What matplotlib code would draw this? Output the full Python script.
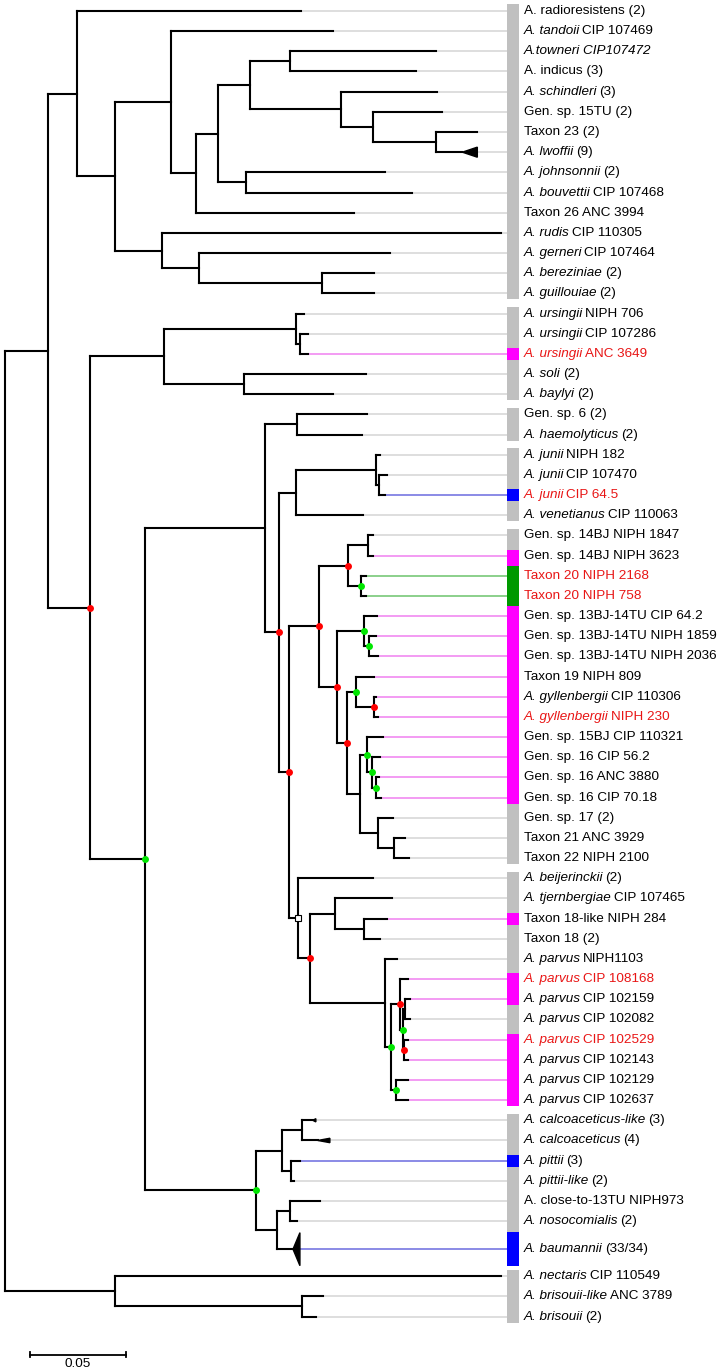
import matplotlib
matplotlib.use("Agg")
import matplotlib.pyplot as plt
from matplotlib.collections import LineCollection
from matplotlib.patches import Polygon, Rectangle

plt.rcParams['font.family'] = 'Liberation Sans'
FS = 9.7

# ---- tree data (Newick, branch lengths in substitutions/site) ----
# leaves are L<index into labels>; internal labels: r = red dot, g = green dot, o = open square
top_clade = ("(L0:0.1167,((L1:0.0844,((((L2:0.0760,L3:0.0656):0.0208,"
             "(L4:0.0500,(L5:0.0359,(L6:0.0214,L7:0.0214):0.0328):0.0167):0.0474):0.0167,"
             "(L8:0.0724,L9:0.0865):0.0146):0.0115,L10:0.0823):0.0130):0.0292,"
             "(L11:0.1766,(L12:0.0995,(L13:0.0271,L14:0.0271):0.0641):0.0193):0.0245):0.0198)")
ursingii_clade = "((L15:0.0042,(L16:0.0042,L17:0.0042):0.0021):0.0688,(L18:0.0635,L19:0.0464):0.0417)"
junii_clade = "((L22:0.0021,(L23:0.0042,L24:0.0031):0.0016):0.0417,L25:0.0349)"
gyll_clade = ("(((L26:0.0026,L27:0.0026):0.0104,(L28:0.0026,L29:0.0026)g:0.0068)r:0.0151,"
              "((L30:0.0068,(L31:0.0036,L32:0.0047)g:0.0026)g:0.0141,"
              "((L33:0.0094,(L34:0.0010,L35:0.0021)r:0.0094)g:0.0047,"
              "((L36:0.0083,(L37:0.0042,(L38:0.0016,L39:0.0026)g:0.0021)g:0.0026)g:0.0036,"
              "(L40:0.0078,(L41:0.0057,L42:0.0078):0.0083):0.0094):0.0068)r:0.0052)r:0.0094)r")
parvus_clade = ("(L43:0.0391,((L44:0.0297,(L45:0.0120,L46:0.0083):0.0151):0.0130,"
                "(L47:0.0063,((L48:0.0042,((L49:0.0026,L50:0.0029):0.0008,"
                "(L51:0.0021,L52:0.0021)r:0.0005)g:0.0016)r:0.0047,"
                "(L53:0.0063,L54:0.0063)g:0.0026)g:0.0031):0.0391)r:0.0063)o")
baumannii_clade = ("(((L55:0.0073,L56:0.0146):0.0104,(L57:0.0047,L58:0.0016):0.0047):0.0135,"
                   "((L59:0.0156,L60:0.0036):0.0068,L61:0.0120):0.0109)g")
brisouii_clade = "(L62:0.2010,(L63:0.0109,L64:0.0073):0.0974)"

# italic parts between underscores
labels = [
    "A. radioresistens (2)", "_A. tandoii_ CIP 107469", "_A.towneri CIP107472_",
    "A. indicus (3)", "_A. schindleri_ (3)", "Gen. sp. 15TU (2)", "Taxon 23 (2)",
    "_A. lwoffii_ (9)", "_A. johnsonnii_ (2)", "_A. bouvettii_ CIP 107468",
    "Taxon 26 ANC 3994", "_A. rudis_ CIP 110305", "_A. gerneri_ CIP 107464",
    "_A. bereziniae_ (2)", "_A. guillouiae_ (2)",
    "_A. ursingii_ NIPH 706", "_A. ursingii_ CIP 107286", "_A. ursingii_ ANC 3649",
    "_A. soli_ (2)", "_A. baylyi_ (2)",
    "Gen. sp. 6 (2)", "_A. haemolyticus_ (2)",
    "_A. junii_ NIPH 182", "_A. junii_ CIP 107470", "_A. junii_ CIP 64.5",
    "_A. venetianus_ CIP 110063",
    "Gen. sp. 14BJ NIPH 1847", "Gen. sp. 14BJ NIPH 3623", "Taxon 20 NIPH 2168",
    "Taxon 20 NIPH 758", "Gen. sp. 13BJ-14TU CIP 64.2", "Gen. sp. 13BJ-14TU NIPH 1859",
    "Gen. sp. 13BJ-14TU NIPH 2036", "Taxon 19 NIPH 809", "_A. gyllenbergii_ CIP 110306",
    "_A. gyllenbergii_ NIPH 230", "Gen. sp. 15BJ CIP 110321", "Gen. sp. 16 CIP 56.2",
    "Gen. sp. 16 ANC 3880", "Gen. sp. 16 CIP 70.18", "Gen. sp. 17 (2)",
    "Taxon 21 ANC 3929", "Taxon 22 NIPH 2100",
    "_A. beijerinckii_ (2)", "_A. tjernbergiae_ CIP 107465", "Taxon 18-like NIPH 284",
    "Taxon 18 (2)", "_A. parvus_ NIPH1103", "_A. parvus_ CIP 108168",
    "_A. parvus_ CIP 102159", "_A. parvus_ CIP 102082", "_A. parvus_ CIP 102529",
    "_A. parvus_ CIP 102143", "_A. parvus_ CIP 102129", "_A. parvus_ CIP 102637",
    "_A. calcoaceticus-like_ (3)", "_A. calcoaceticus_ (4)", "_A. pittii_ (3)",
    "_A. pittii-like_ (2)", "A. close-to-13TU NIPH973", "_A. nosocomialis_ (2)",
    "_A. baumannii_ (33/34)",
    "_A. nectaris_ CIP 110549", "_A. brisouii-like_ ANC 3789", "_A. brisouii_ (2)",
]
group_sizes = [15, 5, 2, 4, 17, 12, 7, 3]
magenta_leaves = [17, 27, 30, 31, 32, 33, 34, 35, 36, 37, 38, 39, 45, 48, 49, 51, 52, 53, 54]
blue_leaves = [24, 57, 61]
green_leaves = [28, 29]
red_labels = [17, 24, 28, 29, 35, 48, 51]
# collapsed clades: leaf -> (triangle length, triangle half height in rows)
collapsed = {7: (0.0078, 0.25), 55: (0.0016, 0.08), 56: (0.0063, 0.11), 61: (0.0036, 0.82)}
extra_space = {61: 0.39, 62: 0.34}

AC = "(" + gyll_clade + ":0.0156," + parvus_clade + ":0.0047)r"
Y = "(" + junii_clade + ":0.0089," + AC + ":0.0052)r"
W = "((L20:0.0365,L21:0.0339):0.0167," + Y + ":0.0073)"
V = "(" + W + ":0.0625," + baumannii_clade + ":0.0578)g"
P = "(" + ursingii_clade + ":0.0385," + V + ":0.0286)r"
A = "(" + top_clade + ":0.0151," + P + ":0.0219)"
newick = "(" + A + ":0.0224," + brisouii_clade + ":0.0573);"


def parse_newick(s):
    s = "".join(s.split())
    pos = 0

    def read_node():
        nonlocal pos
        node = {"children": [], "name": "", "length": 0.0}
        if s[pos] == "(":
            pos += 1
            node["children"].append(read_node())
            while s[pos] == ",":
                pos += 1
                node["children"].append(read_node())
            pos += 1
        start = pos
        while s[pos] not in ":,);":
            pos += 1
        node["name"] = s[start:pos]
        if s[pos] == ":":
            pos += 1
            start = pos
            while s[pos] not in ",);":
                pos += 1
            node["length"] = float(s[start:pos])
        return node

    return read_node()


leaf_y = []
y = 0.0
for i in range(len(labels)):
    y += extra_space.get(i, 0)
    leaf_y.append(y)
    y += 1


def layout(node, x0):
    node["x"] = x0 + node["length"]
    if node["children"]:
        for c in node["children"]:
            layout(c, node["x"])
        node["y"] = (node["children"][0]["y"] + node["children"][-1]["y"]) / 2
    else:
        node["idx"] = int(node["name"][1:])
        node["y"] = leaf_y[node["idx"]]


root = parse_newick(newick)
layout(root, 0.0)

GRAY_BAR = '#c0c0c0'
bar_color = {i: '#ff00ff' for i in magenta_leaves}
bar_color.update({i: '#0000ff' for i in blue_leaves})
bar_color.update({i: '#009900' for i in green_leaves})
line_color = {i: '#f080f0' for i in magenta_leaves}
line_color.update({i: '#6b6bdf' for i in blue_leaves})
line_color.update({i: '#6cc46c' for i in green_leaves})

bar_x0, bar_w, text_x = 0.2615, 0.0062, 0.2703

fig = plt.figure(figsize=(7.21, 13.71), dpi=100)
ax = fig.add_axes([0, 0, 1, 1])
ax.set_xlim(-0.0026, 0.3729)
ax.set_ylim(67.43, -0.545)
ax.axis('off')

branches, ext_lines, ext_colors, markers = [], [], [], []
leaves = []


def collect(node):
    for c in node["children"]:
        x_end = c["x"]
        if not c["children"]:
            leaves.append(c)
            if c["idx"] in collapsed:
                tl, hh = collapsed[c["idx"]]
                x_end = c["x"] - tl
                ax.add_patch(Polygon([(x_end, c["y"]), (c["x"], c["y"] - hh), (c["x"], c["y"] + hh)],
                                     closed=True, color='black', zorder=3))
        branches.append([(node["x"], c["y"]), (x_end, c["y"])])
        collect(c)
    if node["children"]:
        branches.append([(node["x"], node["children"][0]["y"]), (node["x"], node["children"][-1]["y"])])
        if node["name"] in ("r", "g", "o"):
            markers.append((node["x"], node["y"], node["name"]))


collect(root)

for lf in leaves:
    ext_lines.append([(lf["x"], lf["y"]), (bar_x0, lf["y"])])
    ext_colors.append(line_color.get(lf["idx"], '#d4d4d4'))
ax.add_collection(LineCollection(ext_lines, colors=ext_colors, linewidths=1.1, zorder=1))
ax.add_collection(LineCollection(branches, colors='black', linewidths=1.5,
                                 capstyle='projecting', zorder=2))

for x, yy, kind in markers:
    if kind == "r":
        ax.plot(x, yy, 'o', color='#ff0000', ms=5, mec='none', zorder=5)
    elif kind == "g":
        ax.plot(x, yy, 'o', color='#00e600', ms=5, mec='none', zorder=5)
    else:
        ax.plot(x, yy, 's', mfc='white', mec='black', ms=4.5, mew=0.8, zorder=5)


# colour strip
def half(i):
    return collapsed[i][1] + 0.03 if i in collapsed and collapsed[i][1] > 0.3 else 0.3


start = 0
for size in group_sizes:
    end = start + size - 1
    ax.add_patch(Rectangle((bar_x0, leaf_y[start] - 0.33), bar_w,
                           leaf_y[end] + max(0.22, half(end)) - leaf_y[start] + 0.33,
                           color=GRAY_BAR, lw=0, zorder=1))
    i = start
    while i <= end:
        if i not in bar_color:
            i += 1
            continue
        j = i
        while j + 1 <= end and (j + 1) in bar_color:
            j += 1
        for k in range(i, j + 1):
            top = leaf_y[k] - half(k) if k == i else (leaf_y[k - 1] + leaf_y[k]) / 2
            bot = leaf_y[k] + half(k) if k == j else (leaf_y[k] + leaf_y[k + 1]) / 2
            ax.add_patch(Rectangle((bar_x0, top), bar_w, bot - top,
                                   color=bar_color[k], lw=0, zorder=1.5))
        i = j + 1
    start = end + 1

# labels with italic parts
renderer = fig.canvas.get_renderer()
px_per_unit = ax.transData.transform((1, 0))[0] - ax.transData.transform((0, 0))[0]


def width_px(s, style):
    t = ax.text(0, 0, s, fontsize=FS, style=style)
    w = t.get_window_extent(renderer).width
    t.remove()
    return w


space_px = width_px("x x", "normal") - width_px("xx", "normal")

for i, lab in enumerate(labels):
    col = '#e81515' if i in red_labels else 'black'
    x = text_x
    prev_italic = False
    for k, seg in enumerate(lab.split("_")):
        if not seg:
            continue
        style = 'italic' if k % 2 == 1 else 'normal'
        if seg.startswith(" "):
            # italic ink overhangs a little, so tighten the gap after it
            x += (space_px - (1.8 if prev_italic else 0)) / px_per_unit
        t = ax.text(x, leaf_y[i], seg.strip(), fontsize=FS, style=style, color=col,
                    ha='left', va='center', zorder=4)
        x += t.get_window_extent(renderer).width / px_per_unit
        if seg.endswith(" "):
            x += space_px / px_per_unit
        prev_italic = style == 'italic'

# scale bar
sb_x, sb_len, sb_y = 0.013, 0.05, 66.63
ax.plot([sb_x, sb_x + sb_len], [sb_y, sb_y], color='black', lw=1.3)
ax.plot([sb_x, sb_x], [sb_y - 0.12, sb_y + 0.12], color='black', lw=1.3)
ax.plot([sb_x + sb_len, sb_x + sb_len], [sb_y - 0.12, sb_y + 0.12], color='black', lw=1.3)
ax.text(sb_x + sb_len / 2, 67.1, "0.05", fontsize=FS, ha='center', va='center')

fig.savefig("out.png", dpi=100)
